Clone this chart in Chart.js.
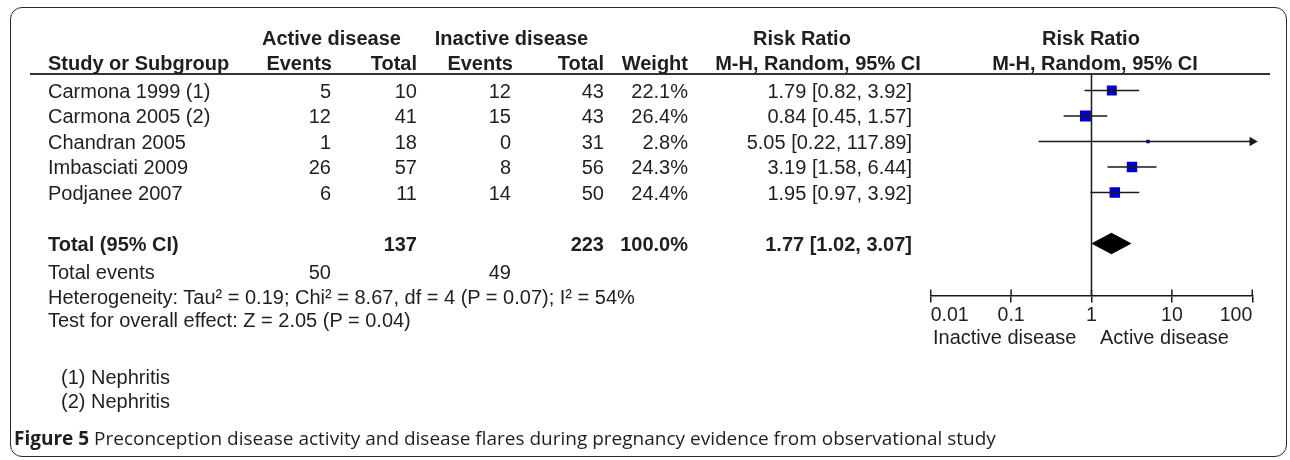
<!DOCTYPE html>
<html><head><meta charset="utf-8">
<script src="https://cdn.jsdelivr.net/npm/chart.js@4.4.1/dist/chart.umd.min.js"></script>
<style>
html,body{margin:0;padding:0;background:#fff;}
#wrap{position:relative;width:1290px;height:460px;overflow:hidden;font-family:"Liberation Sans",Arial,sans-serif;color:#1f1f1f;}
#frame{position:absolute;left:10px;top:7px;width:1277px;height:450px;border:1.5px solid #2a2a2a;border-radius:12px;box-sizing:border-box;}
#rule{position:absolute;left:30px;top:73px;width:1240px;height:2px;background:#333;}
canvas{position:absolute;left:0;top:0;}
.t{position:absolute;font-size:20px;line-height:24px;white-space:nowrap;}
.b{font-weight:bold;}
#cap{position:absolute;left:14px;top:438px;transform:translateY(-50%);font-family:"Open Sans",sans-serif;font-size:19px;line-height:24px;white-space:nowrap;color:#1f1f1f;}
</style></head>
<body>
<div id="wrap">
  <div id="frame"></div>
  <div id="rule"></div>
  <canvas id="c" width="1290" height="460"></canvas>
  <div id="cap"><b>Figure 5</b> Preconception disease activity and disease flares during pregnancy evidence from observational study</div>
</div>
<script>
// ---- data ----
const studies = ["Carmona 1999 (1)", "Carmona 2005 (2)", "Chandran 2005", "Imbasciati 2009", "Podjanee 2007"];
const activeEvents = [5, 12, 1, 26, 6];
const activeTotal = [10, 41, 18, 57, 11];
const inactiveEvents = [12, 15, 0, 8, 14];
const inactiveTotal = [43, 43, 31, 56, 50];
const weights = [22.1, 26.4, 2.8, 24.3, 24.4];
const riskRatio = [1.79, 0.84, 5.05, 3.19, 1.95];
const ciLow = [0.82, 0.45, 0.22, 1.58, 0.97];
const ciHigh = [3.92, 1.57, 117.89, 6.44, 3.92];
const totalActive = 137, totalInactive = 223, totalWeight = 100.0;
const totalRR = 1.77, totalLow = 1.02, totalHigh = 3.07;
const totalEventsActive = 50, totalEventsInactive = 49;
const tau2 = "0.19", chi2 = "8.67", dfHet = 4, pHet = "0.07", i2 = 54;
const zStat = "2.05", pZ = "0.04";
const footnotes = ["(1) Nephritis", "(2) Nephritis"];
const tickValues = [0.01, 0.1, 1, 10, 100];
const tickLabels = ["0.01", "0.1", "1", "10", "100"];
const favourLabels = ["Inactive disease", "Active disease"];

// ---- layout constants ----
const X_MIN = 0.01, X_MAX = 100;
const Y_MIN = -0.65, Y_MAX = 8.04;
const TOTAL_ROW = 6;
const AXIS_Y = 295.5;
const wrap = document.getElementById('wrap');
function put(text, x, y, align, bold) {
  const d = document.createElement('div');
  d.className = 't' + (bold ? ' b' : '');
  d.textContent = text;
  d.style.left = x + 'px';
  d.style.top = y + 'px';
  const tx = align === 'right' ? '-100%' : align === 'center' ? '-50%' : '0';
  d.style.transform = 'translate(' + tx + ',-50%)';
  wrap.appendChild(d);
  return d;
}

const ink = '#1a1a1a';
const crossTicks = {
  id: 'crossTicks',
  afterDraw(chart) {
    const xs = chart.scales.x, ctx = chart.ctx, yb = chart.chartArea.bottom;
    ctx.save();
    ctx.strokeStyle = ink; ctx.lineWidth = 1.5;
    tickValues.forEach(v => {
      const px = xs.getPixelForValue(v);
      ctx.beginPath(); ctx.moveTo(px, yb - 6); ctx.lineTo(px, yb); ctx.stroke();
    });
    ctx.restore();
  }
};

const datasets = [];
// line of no effect
datasets.push({ data: [{x: 1, y: Y_MIN}, {x: 1, y: Y_MAX}], showLine: true, borderColor: ink, borderWidth: 1.5, pointRadius: 0, clip: false });
// confidence intervals
studies.forEach((s, i) => {
  datasets.push({ data: [{x: Math.max(ciLow[i], X_MIN), y: i}, {x: Math.min(ciHigh[i], X_MAX), y: i}], showLine: true, borderColor: ink, borderWidth: 1.5, pointRadius: 0 });
});
// arrows where CI exceeds axis
const arrows = [];
studies.forEach((s, i) => { if (ciHigh[i] > X_MAX) arrows.push({x: X_MAX, y: i}); });
datasets.push({ data: arrows, pointStyle: 'triangle', rotation: 90, pointRadius: 5.5, backgroundColor: ink, borderColor: ink, borderWidth: 0, clip: false });
// study squares
datasets.push({ data: studies.map((s, i) => ({x: riskRatio[i], y: i})), pointStyle: 'rect', pointRadius: weights.map(w => Math.sqrt(w) * 1.5), backgroundColor: '#0000c8', borderColor: '#0000c8', borderWidth: 0 });
// pooled diamond
const dh = 0.4;
datasets.push({ data: [{x: totalLow, y: TOTAL_ROW}, {x: totalRR, y: TOTAL_ROW - dh}, {x: totalHigh, y: TOTAL_ROW}, {x: totalRR, y: TOTAL_ROW + dh}, {x: totalLow, y: TOTAL_ROW}], showLine: true, fill: 'shape', backgroundColor: '#000', borderColor: '#000', borderWidth: 1, pointRadius: 0 });

const chart = new Chart(document.getElementById('c'), {
  type: 'scatter',
  data: { datasets },
  options: {
    responsive: false, animation: false, devicePixelRatio: 1,
    layout: { padding: { left: 930.7, right: 1290 - 1252.3, top: 74, bottom: 120 } },
    plugins: { legend: { display: false }, tooltip: { enabled: false } },
    scales: {
      x: {
        type: 'logarithmic', min: X_MIN, max: X_MAX,
        afterBuildTicks: sc => { sc.ticks = tickValues.map(v => ({value: v})); },
        ticks: { callback: (v, i) => tickLabels[i], align: 'inner', autoSkip: false, maxRotation: 0, color: '#1f1f1f', font: { family: 'Liberation Sans', size: 19.5 }, padding: 1 },
        grid: { drawOnChartArea: false, drawTicks: true, tickLength: 7, color: ink, lineWidth: 1.5 },
        border: { display: true, color: ink, width: 1.5 }
      },
      y: { type: 'linear', min: Y_MIN, max: Y_MAX, reverse: true, display: false }
    }
  },
  plugins: [crossTicks]
});
chart.options.layout.padding.bottom += chart.chartArea.bottom - AXIS_Y;
chart.update('none');

// ---- table text ----
const yS = chart.scales.y;
const col = { name: 48, aEv: 331, aTot: 417, iEv: 511, iTot: 604, wt: 688, rr: 912 };
const H1 = 38, H2 = 63;
put('Active disease', 331.5, H1, 'center', true);
put('Inactive disease', 511.5, H1, 'center', true);
put('Risk Ratio', 802, H1, 'center', true);
put('Risk Ratio', 1091, H1, 'center', true);
put('Study or Subgroup', col.name, H2, 'left', true);
put('Events', 332, H2, 'right', true);
put('Total', col.aTot, H2, 'right', true);
put('Events', 513, H2, 'right', true);
put('Total', col.iTot, H2, 'right', true);
put('Weight', col.wt, H2, 'right', true);
put('M-H, Random, 95% CI', 818, H2, 'center', true);
put('M-H, Random, 95% CI', 1095, H2, 'center', true);

const f2 = v => v.toFixed(2);
studies.forEach((s, i) => {
  const y = yS.getPixelForValue(i);
  put(s, col.name, y, 'left');
  put(String(activeEvents[i]), col.aEv, y, 'right');
  put(String(activeTotal[i]), col.aTot, y, 'right');
  put(String(inactiveEvents[i]), col.iEv, y, 'right');
  put(String(inactiveTotal[i]), col.iTot, y, 'right');
  put(weights[i].toFixed(1) + '%', col.wt, y, 'right');
  put(f2(riskRatio[i]) + ' [' + f2(ciLow[i]) + ', ' + f2(ciHigh[i]) + ']', col.rr, y, 'right');
});
const yT = yS.getPixelForValue(TOTAL_ROW);
put('Total (95% CI)', col.name, yT, 'left', true);
put(String(totalActive), col.aTot, yT, 'right', true);
put(String(totalInactive), col.iTot, yT, 'right', true);
put(totalWeight.toFixed(1) + '%', col.wt, yT, 'right', true);
put(f2(totalRR) + ' [' + f2(totalLow) + ', ' + f2(totalHigh) + ']', col.rr, yT, 'right', true);

put('Total events', col.name, 272, 'left');
put(String(totalEventsActive), col.aEv, 272, 'right');
put(String(totalEventsInactive), col.iEv, 272, 'right');
put('Heterogeneity: Tau\u00b2 = ' + tau2 + '; Chi\u00b2 = ' + chi2 + ', df = ' + dfHet + ' (P = ' + pHet + '); I\u00b2 = ' + i2 + '%', col.name, 297, 'left');
put('Test for overall effect: Z = ' + zStat + ' (P = ' + pZ + ')', col.name, 320, 'left');
footnotes.forEach((f, i) => put(f, 61, 377 + i * 24, 'left'));

// favours labels under the axis
put(favourLabels[0], 933, 337, 'left');
put(favourLabels[1], 1100, 337, 'left');
</script>
</body></html>
